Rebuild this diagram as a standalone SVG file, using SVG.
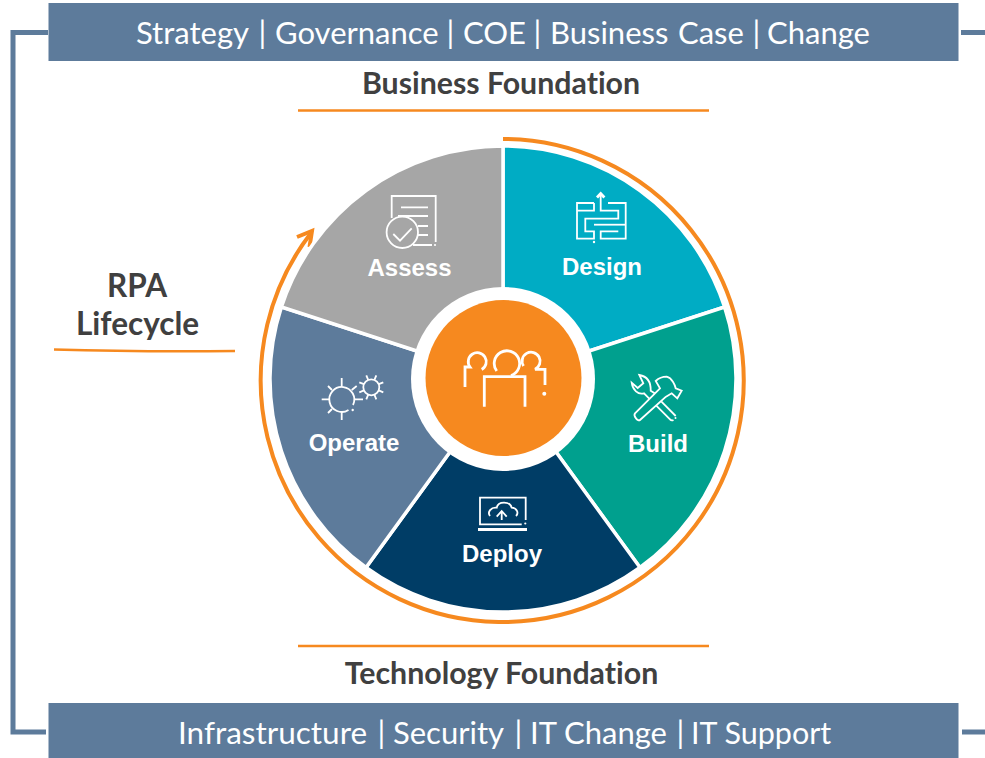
<svg xmlns="http://www.w3.org/2000/svg" width="985" height="758" viewBox="0 0 985 758">
<style>
.bar{fill:#5d7b9b}
.bt{font-family:Lato,"Liberation Sans",sans-serif;font-size:31px;fill:#fff}
.bb{font-size:31.500px}
.bs2{font-size:30.500px}
.hd{font-family:Lato,"Liberation Sans",sans-serif;font-weight:700;font-size:30.300px;fill:#404040;text-anchor:middle;font-variant-ligatures:none}
.rp{font-size:31.500px}
.lb{font-family:"Liberation Sans",Arial,sans-serif;font-weight:700;font-size:24px;fill:#fff;text-anchor:middle}
.ic{fill:none;stroke:#fff;stroke-width:1.800;stroke-linecap:butt;stroke-linejoin:miter}
.th{stroke-width:2.800}
.bs{stroke-width:3}
.or{fill:none;stroke:#f6891f;stroke-width:2.500}
.seg{stroke:#fff;stroke-width:3.500}
.dot{fill:#fff}
</style>
<rect width="985" height="758" fill="#fff"/>
<g id="connectors" fill="none" stroke="#5d7b9b" stroke-width="5">
<path d="M48 32.500H13V732H46"/>
<path d="M961 32.500H985"/>
<path d="M962 732H985"/>
</g>
<g id="top-bar"><rect class="bar" x="48.500" y="3" width="910" height="58"/>
<text class="bt" y="44"><tspan x="136">Strategy</tspan> <tspan x="258.500">|</tspan> <tspan x="275">Governance</tspan> <tspan x="446.500">|</tspan> <tspan x="463">COE</tspan> <tspan x="533.500">|</tspan> <tspan x="550">Business</tspan> <tspan x="678">Case</tspan> <tspan x="752.500">|</tspan> <tspan x="767">Change</tspan></text></g>
<g id="bottom-bar"><rect class="bar" x="48.500" y="703" width="910" height="55"/>
<text class="bt" y="744"><tspan class="bb" x="178">Infrastructure</tspan> <tspan x="377.500">|</tspan> <tspan x="393">Security</tspan> <tspan x="514.500">|</tspan> <tspan x="530">IT Change</tspan> <tspan x="676.500">|</tspan> <tspan class="bs2" x="691">IT Support</tspan></text></g>
<g id="business-foundation"><text class="hd" x="501" y="93.500">Business Foundation</text>
<path class="or" d="M298 110.500H709"/></g>
<g id="technology-foundation"><path class="or" d="M298 646H709"/>
<text class="hd" x="501.500" y="683.500">Technology Foundation</text></g>
<g id="rpa-lifecycle"><text class="hd rp" x="137" y="297">RPA</text><text class="hd rp" x="137.500" y="335">Lifecycle</text>
<path class="or" d="M54 349.500Q140 352 235 351"/></g>
<g id="cycle-arrow"><path d="M503 139A241.500 241.500 0 1 1 311 233" fill="none" stroke="#f6891f" stroke-width="4"/>
<path d="M297 237L312 231L309.500 247" fill="none" stroke="#f6891f" stroke-width="4"/></g>
<g id="design"><path class="seg" d="M503 146A233 233 0 0 1 724.600 307L503 379Z" fill="#00acc4"/>
<g class="ic"><path d="M594 203H577V238.700H594V231.300H585.300V218.700H618.300V210.700H600.700V195"/><path d="M577 210.700H594V203"/><path d="M608 203H625.700V238.700H600.700V231.300H618.300"/><path d="M594 224.700H625"/><path d="M597 197.500L600.700 193.500L604.400 197.500" class="th"/></g>
<circle class="dot" cx="594" cy="242" r="1.200"/>
<text class="lb" x="602" y="275">Design</text></g>
<g id="build"><path class="seg" d="M724.600 307A233 233 0 0 1 640 567.500L503 379Z" fill="#00a08e"/>
<g class="ic"><path d="M655 393.600L650.700 390.700C651 380 645 376 639.300 375L643.300 383.300L637.700 388L631.700 382.700C632.700 390 638 395 644 393.300L649.500 398.800"/><path d="M661.200 401.300L675.700 416"/><path d="M656.300 405.600L670 419.300C671 420.500 672.500 420.500 673.500 420"/><path d="M666 396.700L640 420C638 422 633 416 635 413.300L660 388.300L655.700 381C660 377 663 376.700 666.700 376.700C672 378 675 385 675.700 388.300L681.700 390.700L677.300 398.300L671.700 393.300L666 396.700"/></g>
<circle class="dot" cx="675.500" cy="418" r="1"/>
<text class="lb" x="658" y="452">Build</text></g>
<g id="deploy"><path class="seg" d="M640 567.500A233 233 0 0 1 366 567.500L503 379Z" fill="#003d66"/>
<g class="ic"><path d="M525.700 520V497.700H480V524.300H521.700"/><path d="M478 529.500H527" class="bs"/><path d="M490 516C487 512 491 507 496.700 507.700C498 501 510 501 511.700 507.700C517 508 519 513 516 516"/><path d="M501.700 520V512M496.700 516.700L501.700 511L506.700 516.700"/></g>
<circle class="dot" cx="525.300" cy="523.500" r="1.100"/>
<text class="lb" x="502" y="562">Deploy</text></g>
<g id="operate"><path class="seg" d="M366 567.500A233 233 0 0 1 281.400 307L503 379Z" fill="#5d7b9b"/>
<g class="ic"><path d="M348.500 410A12.500 12.500 0 1 1 353 405"/><path d="M341.700 378V386.500M341.700 412V420M321.700 399.300H329M355 399.300H363M328 386L332 390M356.700 386L351.700 390M328 413L332 409"/><circle cx="371.300" cy="387.300" r="8"/><path d="M378.700 390.400L383.300 392.300M378.700 384.200L383.300 382.300M363.900 390.400L359.300 392.300M363.900 384.200L359.300 382.300M374.400 394.700L376.300 399.300M368.200 394.700L366.300 399.300M374.400 379.900L376.300 375.300M368.200 379.900L366.300 375.300"/></g>
<circle class="dot" cx="352.700" cy="410" r="1.200"/>
<text class="lb" x="354" y="451">Operate</text></g>
<g id="assess"><path class="seg" d="M281.400 307A233 233 0 0 1 503 146V379Z" fill="#a6a6a6"/>
<g class="ic"><path d="M391.700 218V196H435.700V242"/><path d="M401 207.300H428M398 216H428M418 226H428M418 235H428M413 245H432"/><circle cx="402.300" cy="232.300" r="15.700"/><path d="M393.300 234L400 240.700L411.700 228.300"/></g>
<circle class="dot" cx="435" cy="245" r="1.100"/>
<text class="lb" x="409.500" y="276">Assess</text></g>
<g id="hub"><circle cx="503" cy="379" r="92" fill="#fff"/><circle cx="503.500" cy="378" r="78" fill="#f6891f"/>
<g class="ic th"><path d="M484.300 406.700V376.700H525V406.700"/><path d="M496.700 371A12.700 12.700 0 1 1 511 375.500"/><path d="M481.700 369.500A9 9 0 1 0 470 367H465V387"/><path d="M523.500 366A9 9 0 1 1 535 369.300H545V385"/></g>
<circle class="dot" cx="544.300" cy="393.700" r="2"/></g>
</svg>
